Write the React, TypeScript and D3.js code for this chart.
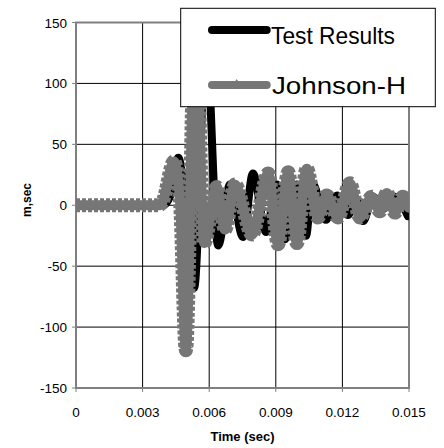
import React from 'react';
import * as d3 from 'd3';

const xTicks = [0, 0.003, 0.006, 0.009, 0.012, 0.015];
const xTickLabels = ['0', '0.003', '0.006', '0.009', '0.012', '0.015'];
const yTicks = [150, 100, 50, 0, -50, -100, -150];
const yTickLabels = ['150', '100', '50', '0', '-50', '-100', '-150'];

const seriesNames = ['Test Results', 'Johnson-H'];

const testTime = [0, 0.00392, 0.00425, 0.00461, 0.0049, 0.00532, 0.00586, 0.0064, 0.00694, 0.00752, 0.00797, 0.00856, 0.00905, 0.00941, 0.00995, 0.01036, 0.01064, 0.01126, 0.01176, 0.01225, 0.01261, 0.01293, 0.01338, 0.01383, 0.01437, 0.01495];
const testValue = [0, 0, 8, 39, 5, -68, 135, -33, 17, -26, 26, -22, 17, -28, 17, -25, 18, -12, 8, -8, 5, -13, 7, -3, 7, -9];

const johnsonTime = [0, 0.00375, 0.0039, 0.00441, 0.00468, 0.00495, 0.00538, 0.00577, 0.00634, 0.00671, 0.00716, 0.00793, 0.00866, 0.0091, 0.00956, 0.00995, 0.01039, 0.0109, 0.01129, 0.0118, 0.01234, 0.01279, 0.01332, 0.01369, 0.014, 0.01437, 0.01473, 0.015];
const johnsonValue = [0, 0, 3, 36, 5, -119, 165, -31, 15, -20, 17, -24, 26, -32, 27, -31, 30, -10, 8, -10, 18, -10, 7, -5, 10, -6, 7, -2];

const GRAY = '#767676';
const FRAME = '#808080';
const FONT = '"Liberation Sans", Arial, sans-serif';

export default function App() {
  const x = d3.scaleLinear().domain([0, 0.015]).range([76, 409]);
  const y = d3.scaleLinear().domain([-150, 150]).range([388, 22.5]);
  const line = d3
    .line<[number, number]>()
    .x((d) => x(d[0]))
    .y((d) => y(d[1]))
    .curve(d3.curveMonotoneX);

  const testPts: [number, number][] = testTime.map((t, i) => [t, testValue[i]]);
  const johnPts: [number, number][] = johnsonTime.map((t, i) => [t, johnsonValue[i]]);
  const testPath = line(testPts) || '';
  const johnPath = line(johnPts) || '';

  const [x0, x1] = x.range();
  const [yb, yt] = y.range();

  return (
    <svg width={444} height={448} style={{ position: 'absolute', left: 0, top: 0, background: '#fff' }} fontFamily={FONT}>
      <defs>
        <clipPath id="plotClip">
          <rect x={x0} y={yt} width={x1 - x0} height={yb - yt} />
        </clipPath>
      </defs>
      <rect x={0} y={0} width={444} height={448} fill="#fff" />
      {yTicks.filter((v) => v !== 150 && v !== -150).map((v) => (
        <line key={'gy' + v} x1={x0} x2={x1} y1={y(v)} y2={y(v)} stroke="#000" strokeWidth={1} />
      ))}
      {xTicks.filter((v) => v !== 0 && v !== 0.015).map((v) => (
        <line key={'gx' + v} x1={x(v)} x2={x(v)} y1={yt} y2={yb} stroke="#000" strokeWidth={1} />
      ))}
      <rect x={x0} y={yt} width={x1 - x0} height={yb - yt} fill="none" stroke={FRAME} strokeWidth={2} />
      {yTicks.map((v) => (
        <line key={'ty' + v} x1={x0 - 4} x2={x0} y1={y(v)} y2={y(v)} stroke={FRAME} strokeWidth={1} />
      ))}
      {xTicks.map((v) => (
        <line key={'tx' + v} x1={x(v)} x2={x(v)} y1={yb} y2={yb + 4} stroke={FRAME} strokeWidth={1} />
      ))}
      <g clipPath="url(#plotClip)">
        <path d={testPath} fill="none" stroke="#000" strokeWidth={8} strokeLinejoin="round" strokeLinecap="round" />
        <path d={johnPath} fill="none" stroke={GRAY} strokeWidth={10} strokeLinejoin="round" strokeLinecap="round" />
        <path d={johnPath} fill="none" stroke={GRAY} strokeWidth={14} strokeDasharray="4 2" strokeLinejoin="round" />
      </g>
      {yTicks.map((v, i) => (
        <text key={'ly' + v} x={67} y={y(v) + 5} textAnchor="end" fontSize={13.5} fill="#000">
          {yTickLabels[i]}
        </text>
      ))}
      {xTicks.map((v, i) => (
        <text key={'lx' + v} x={x(v)} y={416.5} textAnchor="middle" fontSize={13.5} fill="#000">
          {xTickLabels[i]}
        </text>
      ))}
      <text x={(x0 + x1) / 2} y={441} textAnchor="middle" fontSize={13} fontWeight="bold" fill="#000">
        Time (sec)
      </text>
      <text transform={`translate(31,200) rotate(-90)`} textAnchor="middle" fontSize={12} fontWeight="bold" fill="#000">
        m,sec
      </text>
      <rect x={180.7} y={8.3} width={254.6} height={98.4} fill="#fff" stroke="#000" strokeWidth={1} />
      <line x1={212} x2={266.7} y1={30} y2={30} stroke="#000" strokeWidth={8} strokeLinecap="round" />
      <text x={271} y={44} fontSize={24} fill="#000" textLength={124} lengthAdjust="spacingAndGlyphs">
        {seriesNames[0]}
      </text>
      <line x1={212} x2={266.7} y1={85} y2={85} stroke={GRAY} strokeWidth={8} strokeLinecap="round" />
      <path d="M236.7,79 L242,88 L231.4,88 Z" fill={GRAY} />
      <text x={272} y={94.3} fontSize={24} fill="#000" textLength={134} lengthAdjust="spacingAndGlyphs">
        {seriesNames[1]}
      </text>
    </svg>
  );
}
